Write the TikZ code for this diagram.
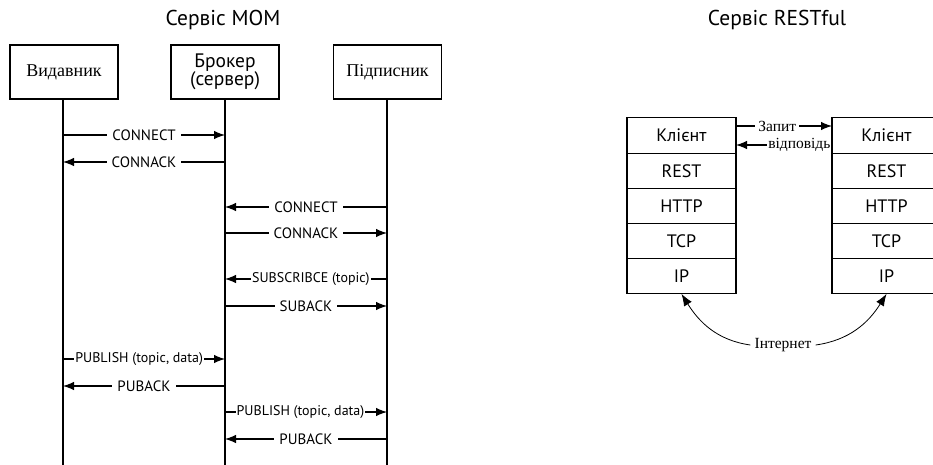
\documentclass[tikz,border=0pt]{standalone}
\usepackage{fontspec}
\setmainfont{Liberation Serif}
\setsansfont{PT Sans}
\usetikzlibrary{arrows.meta,positioning}

\tikzset{
  actor/.style={draw, line width=1.1pt, minimum width=108pt, minimum height=54pt,
    inner sep=0pt, align=center},
  life/.style={line width=1.1pt},
  msg/.style={line width=1.1pt, -{Latex[length=11pt,width=8.5pt]}},
  lbl/.style={fill=white, inner sep=5pt, font=\sffamily\fontsize{15}{16}\selectfont},
  longlbl/.style={lbl, inner sep=1pt, font=\sffamily\fontsize{14}{16}\selectfont},
  layer/.style={draw, line width=1.1pt, minimum width=109pt, minimum height=35.2pt,
    inner sep=0pt, outer sep=0pt, font=\sffamily\fontsize{18}{20}\selectfont},
  title/.style={font=\sffamily\fontsize{21.5}{24}\selectfont},
  note/.style={font=\rmfamily\fontsize{15.5}{17}\selectfont},
}

\begin{document}
\begin{tikzpicture}[x=1pt,y=-1pt]
\useasboundingbox (0,0) rectangle (933,464);

% ---------- publish/subscribe sequence ----------
\node[title] (momtitle) at (223,20) {Сервіс МОМ};

\node[actor, font=\rmfamily\fontsize{18}{20}\selectfont] (pub) at (64,72) {Видавник};
\node[actor, font=\sffamily\fontsize{19.5}{20}\selectfont] (brk) at (225,72) {Брокер\\[-2pt](сервер)};
\node[actor, font=\rmfamily\fontsize{18}{20}\selectfont] (sub) at (387.5,72) {Підписник};

\coordinate (pubend) at (63,470);
\coordinate (brkend) at (225,470);
\coordinate (subend) at (387,470);
\draw[life] (pub.south -| pubend) -- (pubend);
\draw[life] (brk.south -| brkend) -- (brkend);
\draw[life] (sub.south -| subend) -- (subend);

% message anchors on the three lifelines
\foreach \n/\y in {1/135,2/162,3/207,4/233,5/279,6/306,7/359,8/386,9/412,10/439}{
  \coordinate (P\n) at (63,\y);
  \coordinate (B\n) at (225,\y);
  \coordinate (S\n) at (387,\y);
}

\draw[msg] (P1) -- node[lbl] {CONNECT} (B1);
\draw[msg] (B2) -- node[lbl] {CONNACK} (P2);
\draw[msg] (S3) -- node[lbl] {CONNECT} (B3);
\draw[msg] (B4) -- node[lbl] {CONNACK} (S4);
\draw[msg] (S5) -- node[longlbl, pos=0.47] {SUBSCRIBCE (topic)} (B5);
\draw[msg] (B6) -- node[lbl] {SUBACK} (S6);
\draw[msg] (P7) -- node[longlbl, pos=0.47] {PUBLISH (topic, data)} (B7);
\draw[msg] (B8) -- node[lbl] {PUBACK} (P8);
\draw[msg] (B9) -- node[longlbl, pos=0.466] {PUBLISH (topic, data)} (S9);
\draw[msg] (S10) -- node[lbl] {PUBACK} (B10);

% ---------- RESTful protocol stacks ----------
\node[title] (resttitle) at (777,20) {Сервіс RESTful};

\node[layer] (L1) at (681.5,135.5) {Клієнт};
\node[layer, below=0pt of L1] (L2) {REST};
\node[layer, below=0pt of L2] (L3) {HTTP};
\node[layer, below=0pt of L3] (L4) {TCP};
\node[layer, below=0pt of L4] (L5) {IP};

\node[layer] (R1) at (886.5,135.5) {Клієнт};
\node[layer, below=0pt of R1] (R2) {REST};
\node[layer, below=0pt of R2] (R3) {HTTP};
\node[layer, below=0pt of R3] (R4) {TCP};
\node[layer, below=0pt of R4] (R5) {IP};

\draw[msg] ([yshift=9.5pt]L1.east) -- node[note, fill=white, inner sep=3pt, pos=0.43] {Запит} ([yshift=9.5pt]R1.west);
\draw[msg] ([yshift=-9.5pt]R1.west) -- node[note, fill=white, inner sep=1pt, pos=0.34] {відповідь} ([yshift=-9.5pt]L1.east);

\node[note, fill=white, inner sep=4pt] (net) at (783,345) {Інтернет};
\draw[line width=0.8pt, -{Latex[length=12pt,width=9pt]}] (net.west) to[out=172,in=-58] (L5.south);
\draw[line width=0.8pt, -{Latex[length=12pt,width=9pt]}] (net.east) to[out=8,in=-122] (R5.south);
\end{tikzpicture}
\end{document}
